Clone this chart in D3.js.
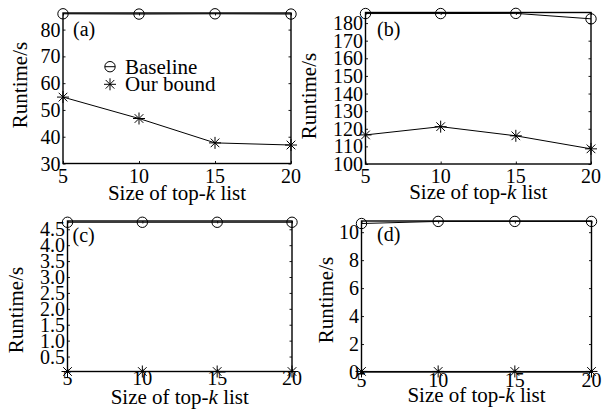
<!DOCTYPE html>
<html>
<head>
<meta charset="utf-8">
<script src="https://cdn.jsdelivr.net/npm/d3@7"></script>
<style>
  html, body { margin: 0; padding: 0; background: #fff; }
  svg { display: block; }
  svg text { font-family: 'Liberation Serif', 'DejaVu Serif', serif !important; fill: #000; }
</style>
</head>
<body>
<svg id="chart" width="602" height="416" font-family="Liberation Serif, serif"></svg>
<script>
// Top-k list sizes shared by all four panels
const topK = [5, 10, 15, 20];
const xTicks = [5, 10, 15, 20];

// Runtime (seconds) per dataset
const baselineA = [85.9, 85.8, 85.9, 85.8];
const boundA    = [54.8, 46.8, 37.7, 36.9];

const baselineB = [185.4, 185.4, 185.5, 182.4];
const boundB    = [116.5, 121.2, 116.0, 108.6];

const baselineC = [4.72, 4.72, 4.72, 4.72];
const boundC    = [0.03, 0.03, 0.03, 0.03];

const baselineD = [10.62, 10.77, 10.77, 10.77];
const boundD    = [0.04, 0.04, 0.04, 0.04];

// Y-axis ranges and tick labels
const yDomainA = [30, 86.2];
const yTicksA  = [30, 40, 50, 60, 70, 80];
const yDomainB = [100, 186];
const yTicksB  = [100, 110, 120, 130, 140, 150, 160, 170, 180];
const yDomainC = [0.03, 4.76];
const yTicksC  = [0.5, 1.0, 1.5, 2.0, 2.5, 3.0, 3.5, 4.0, 4.5];
const yDomainD = [0, 10.8];
const yTicksD  = [0, 2, 4, 6, 8, 10];

const panelNames = ["(a)", "(b)", "(c)", "(d)"];
const seriesNames = ["Baseline", "Our bound"];

const FONT = "Liberation Serif";
const svg = d3.select("#chart");

// Layout of each subplot box
const panels = [
  { name: panelNames[0], base: baselineA, bound: boundA, yDomain: yDomainA, yTicks: yTicksA, fmt: d3.format("d"),
    box: { l: 63, r: 291, t: 13, b: 163.5 }, yTitle: { x: 27, y: 85 }, xTickY: 183, xTitleY: 199.5, tag: { x: 73, y: 35.5 }, legend: true },
  { name: panelNames[1], base: baselineB, bound: boundB, yDomain: yDomainB, yTicks: yTicksB, fmt: d3.format("d"),
    box: { l: 365.5, r: 591, t: 12.5, b: 164 }, yTitle: { x: 316, y: 96 }, xTickY: 183, xTitleY: 199, tag: { x: 377, y: 35.5 } },
  { name: panelNames[2], base: baselineC, bound: boundC, yDomain: yDomainC, yTicks: yTicksC, fmt: d3.format(".1f"),
    box: { l: 67.5, r: 292, t: 221, b: 371.5 }, yTitle: { x: 23, y: 310 }, xTickY: 385, xTitleY: 404, tag: { x: 72.5, y: 242 } },
  { name: panelNames[3], base: baselineD, bound: boundD, yDomain: yDomainD, yTicks: yTicksD, fmt: d3.format("d"),
    box: { l: 361.5, r: 591.5, t: 221, b: 372 }, yTitle: { x: 333, y: 300 }, xTickY: 386.5, xTitleY: 402, tag: { x: 377, y: 240.5 } }
];

// Asterisk marker: plus combined with a shorter cross
function starPath(r) {
  const d = r * 0.72;
  return `M${-r},0L${r},0M0,${-r}L0,${r}M${-d},${-d}L${d},${d}M${-d},${d}L${d},${-d}`;
}

panels.forEach(p => {
  const g = svg.append("g");
  const x = d3.scaleLinear().domain([topK[0], topK[topK.length - 1]]).range([p.box.l, p.box.r]);
  const y = d3.scaleLinear().domain(p.yDomain).range([p.box.b, p.box.t]);
  const tickLen = 2.5;

  // Left axis: labels outside, ticks pointing inward
  const yAxisL = g.append("g").attr("transform", `translate(${p.box.l},0)`)
    .call(d3.axisLeft(y).tickValues(p.yTicks).tickFormat(p.fmt).tickSize(-tickLen).tickPadding(2.5));
  // Right, bottom and top edges carry the same inward ticks
  const yAxisR = g.append("g").attr("transform", `translate(${p.box.r},0)`)
    .call(d3.axisRight(y).tickValues(p.yTicks).tickSize(-tickLen).tickFormat(""));
  const xAxisB = g.append("g").attr("transform", `translate(0,${p.box.b})`)
    .call(d3.axisBottom(x).tickValues(xTicks).tickSize(-tickLen).tickFormat(""));
  const xAxisT = g.append("g").attr("transform", `translate(0,${p.box.t})`)
    .call(d3.axisTop(x).tickValues(xTicks).tickSize(-tickLen).tickFormat(""));

  [yAxisL, yAxisR, xAxisB, xAxisT].forEach(a => {
    a.attr("font-family", FONT);
    a.select(".domain").remove();
    a.selectAll(".tick line").attr("stroke", "#000").attr("stroke-width", 0.9);
  });
  yAxisL.selectAll(".tick text")
    .attr("font-family", FONT)
    .style("font-size", "20px")
    .attr("dy", "0.33em");

  // x tick labels
  g.selectAll(".xlab").data(xTicks).join("text")
    .attr("font-family", FONT)
    .attr("x", d => x(d)).attr("y", p.xTickY)
    .attr("text-anchor", "middle").style("font-size", "20px")
    .text(d => d);

  // Box
  g.append("rect")
    .attr("x", p.box.l).attr("y", p.box.t)
    .attr("width", p.box.r - p.box.l).attr("height", p.box.b - p.box.t)
    .attr("fill", "none").attr("stroke", "#000").attr("stroke-width", 1.4);

  const line = d3.line().x((d, i) => x(topK[i])).y(d => y(d));

  // Baseline series
  g.append("path").datum(p.base).attr("d", line)
    .attr("fill", "none").attr("stroke", "#000").attr("stroke-width", 1);
  g.selectAll(".circ").data(p.base).join("circle")
    .attr("cx", (d, i) => x(topK[i])).attr("cy", d => y(d)).attr("r", 5.2)
    .attr("fill", "none").attr("stroke", "#000").attr("stroke-width", 1);

  // Our bound series
  g.append("path").datum(p.bound).attr("d", line)
    .attr("fill", "none").attr("stroke", "#000").attr("stroke-width", 1);
  g.selectAll(".star").data(p.bound).join("path")
    .attr("transform", (d, i) => `translate(${x(topK[i])},${y(d)})`)
    .attr("d", starPath(6))
    .attr("fill", "none").attr("stroke", "#000").attr("stroke-width", 1);

  // Axis titles
  g.append("text")
    .attr("font-family", FONT)
    .attr("transform", `translate(${p.yTitle.x},${p.yTitle.y}) rotate(-90)`)
    .attr("text-anchor", "middle").style("font-size", "21px")
    .text("Runtime/s");
  const xt = g.append("text")
    .attr("font-family", FONT)
    .attr("x", (p.box.l + p.box.r) / 2).attr("y", p.xTitleY)
    .attr("text-anchor", "middle").style("font-size", "21px");
  xt.append("tspan").text("Size of top-");
  xt.append("tspan").style("font-style", "italic").text("k");
  xt.append("tspan").text(" list");

  // Panel tag
  g.append("text").attr("font-family", FONT).attr("x", p.tag.x).attr("y", p.tag.y)
    .style("font-size", "20px").text(p.name);

  // Legend
  if (p.legend) {
    const lg = g.append("g");
    const lx = 110, rows = [66.7, 84.3];
    lg.append("line").attr("x1", lx - 5.2).attr("x2", lx + 5.2).attr("y1", rows[0]).attr("y2", rows[0])
      .attr("stroke", "#000").attr("stroke-width", 1);
    lg.append("circle").attr("cx", lx).attr("cy", rows[0]).attr("r", 5.2)
      .attr("fill", "none").attr("stroke", "#000").attr("stroke-width", 1);
    lg.append("path").attr("transform", `translate(${lx},${rows[1]})`).attr("d", starPath(6))
      .attr("fill", "none").attr("stroke", "#000").attr("stroke-width", 1);
    lg.selectAll(".legtext").data(seriesNames).join("text")
      .attr("font-family", FONT)
      .attr("x", 125).attr("y", (d, i) => rows[i] + 7)
      .style("font-size", "21px").text(d => d);
  }
});
</script>
</body>
</html>
